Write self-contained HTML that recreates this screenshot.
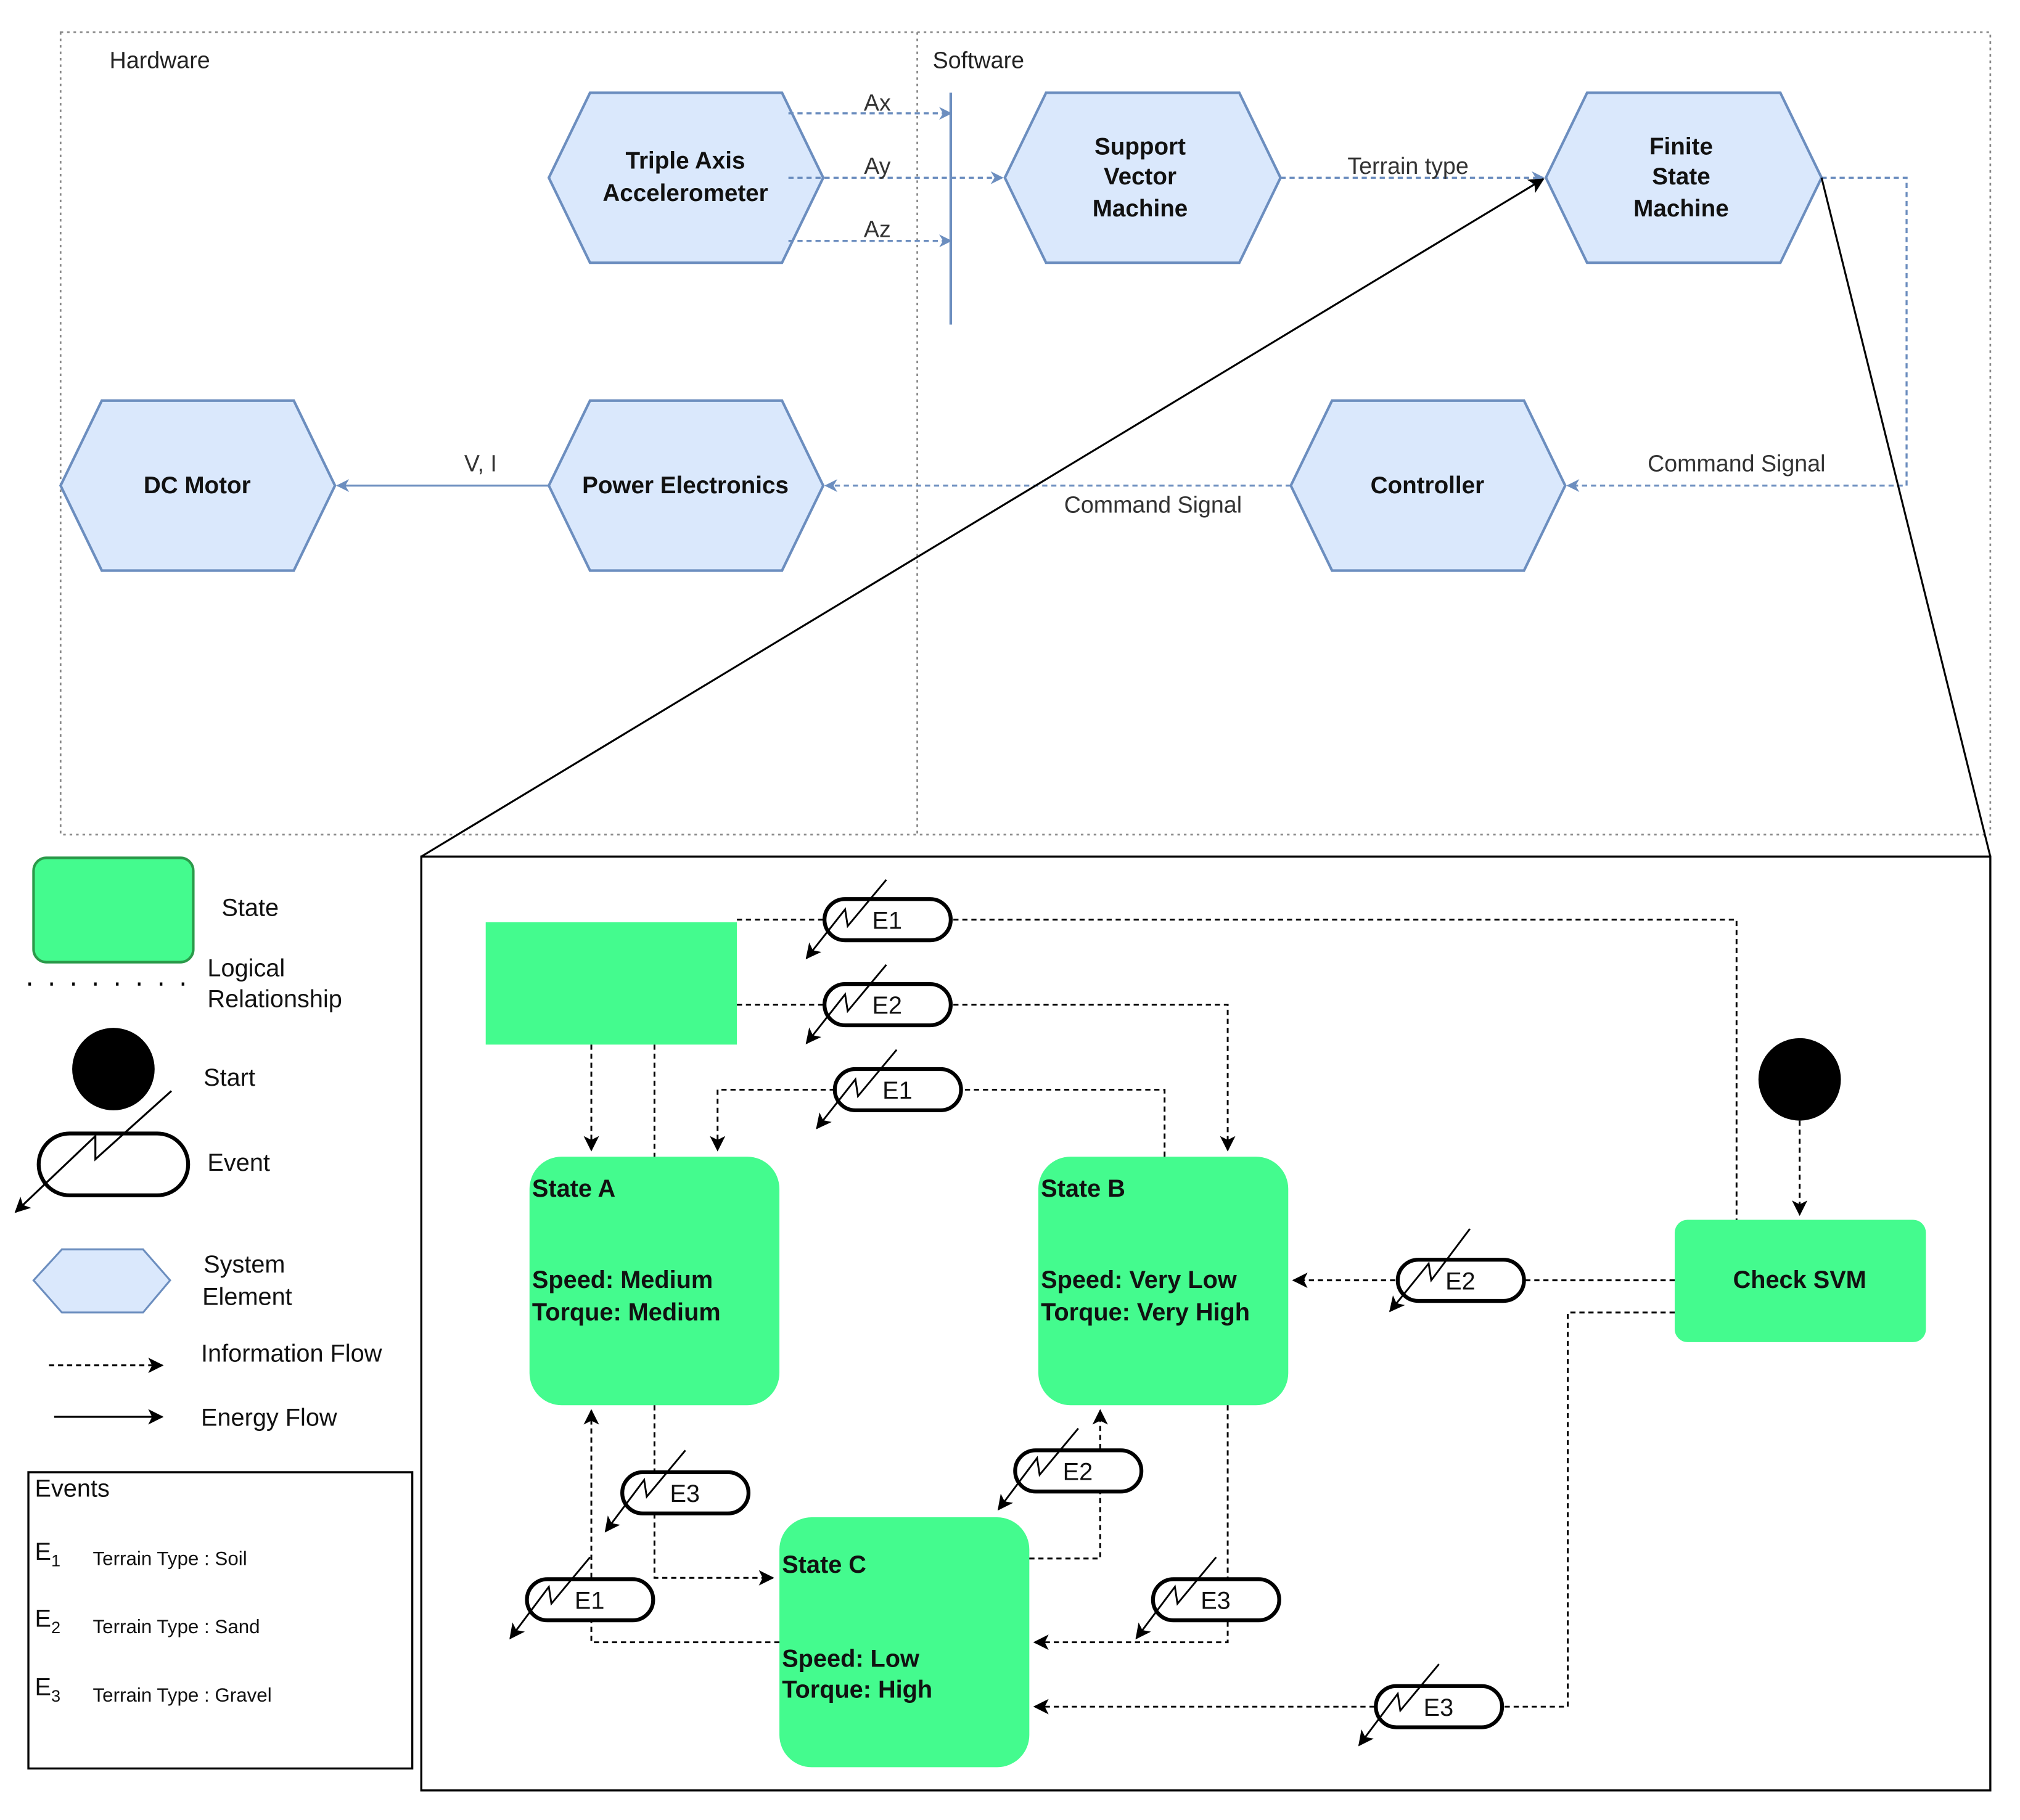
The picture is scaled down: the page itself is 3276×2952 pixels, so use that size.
<!DOCTYPE html>
<html><head><meta charset="utf-8"><style>html,body{margin:0;padding:0;background:#fff}svg{display:block}</style></head><body>
<svg width="3276" height="2952" viewBox="0 0 1568 1413" xmlns="http://www.w3.org/2000/svg" font-family="Liberation Sans, sans-serif">
<defs>
<marker id="ab" markerWidth="10" markerHeight="10" refX="9" refY="5" orient="auto" markerUnits="userSpaceOnUse"><path d="M0,0 L10,5 L0,10 L3,5 z" fill="#6c8ebf"/></marker>
<marker id="ak" markerWidth="12" markerHeight="12" refX="11" refY="6" orient="auto" markerUnits="userSpaceOnUse"><path d="M0,0 L12,6 L0,12 L3,6 z" fill="#000"/></marker>
</defs>
<rect width="1568" height="1413" fill="#fff"/>
<g fill="none" stroke="#888" stroke-width="1.3" stroke-dasharray="2,3">
<rect x="47" y="25" width="1498" height="623"/>
<line x1="712" y1="25" x2="712" y2="648"/>
</g>
<g font-size="18" fill="#222">
<text x="85" y="53">Hardware</text><text x="724" y="53">Software</text>
</g>
<g fill="#dae8fc" stroke="#6c8ebf" stroke-width="2">
<polygon points="426,138 458,72 607,72 639,138 607,204 458,204"/>
<polygon points="780,138 812,72 962,72 994,138 962,204 812,204"/>
<polygon points="1200,138 1232,72 1382,72 1414,138 1382,204 1232,204"/>
<polygon points="47,377 79,311 228,311 260,377 228,443 79,443"/>
<polygon points="426,377 458,311 607,311 639,377 607,443 458,443"/>
<polygon points="1002,377 1034,311 1183,311 1215,377 1183,443 1034,443"/>
</g>
<g font-size="18.5" font-weight="bold" fill="#111" text-anchor="middle">
<text x="532" y="131">Triple Axis</text><text x="532" y="156">Accelerometer</text>
<text x="885" y="120">Support</text><text x="885" y="143">Vector</text><text x="885" y="168">Machine</text>
<text x="1305" y="120">Finite</text><text x="1305" y="143">State</text><text x="1305" y="168">Machine</text>
<text x="153" y="383">DC Motor</text><text x="532" y="383">Power Electronics</text><text x="1108" y="383">Controller</text>
</g>
<g stroke="#6c8ebf" stroke-width="1.6" fill="none">
<line x1="738" y1="72" x2="738" y2="252" stroke-width="2"/>
<g stroke-dasharray="4,3">
<line x1="612" y1="88" x2="738" y2="88" marker-end="url(#ab)"/>
<line x1="612" y1="138" x2="778" y2="138" marker-end="url(#ab)"/>
<line x1="612" y1="187" x2="738" y2="187" marker-end="url(#ab)"/>
<line x1="994" y1="138" x2="1198" y2="138" marker-end="url(#ab)"/>
<polyline points="1414,138 1480,138 1480,377 1217,377" marker-end="url(#ab)"/>
<line x1="1002" y1="377" x2="641" y2="377" marker-end="url(#ab)"/>
</g>
<line x1="426" y1="377" x2="262" y2="377" marker-end="url(#ab)"/>
</g>
<g font-size="18" fill="#333" text-anchor="middle">
<text x="681" y="86">Ax</text><text x="681" y="135">Ay</text><text x="681" y="184">Az</text>
<text x="1093" y="135">Terrain type</text><text x="1348" y="366">Command Signal</text>
<text x="895" y="398">Command Signal</text><text x="373" y="366">V, I</text>
</g>
<line x1="327" y1="665" x2="1198" y2="139" stroke="#000" stroke-width="1.5" marker-end="url(#ak)"/>
<line x1="1414" y1="138" x2="1545" y2="665" stroke="#000" stroke-width="1.5"/>
<rect x="327" y="665" width="1218" height="725" fill="none" stroke="#000" stroke-width="1.6"/>
<!-- legend -->
<rect x="26" y="666" width="124" height="81" rx="10" fill="#44fb8e" stroke="#2b9a4a" stroke-width="2"/>
<line x1="22" y1="764" x2="145" y2="764" stroke="#000" stroke-width="2.5" stroke-dasharray="2,15"/>
<circle cx="88" cy="830" r="32" fill="#000"/>
<rect x="30" y="880" width="116" height="48" rx="24" fill="#fff" stroke="#000" stroke-width="3"/>
<path d="M133,847 L74,900 L74,882 L12,941" stroke="#000" stroke-width="1.5" fill="none" marker-end="url(#ak)"/>
<polygon points="26,994 48,970 111,970 132,994 111,1019 48,1019" fill="#dae8fc" stroke="#6c8ebf" stroke-width="1.5"/>
<line x1="38" y1="1060" x2="126" y2="1060" stroke="#000" stroke-width="1.5" stroke-dasharray="4,3" marker-end="url(#ak)"/>
<line x1="42" y1="1100" x2="126" y2="1100" stroke="#000" stroke-width="1.5" marker-end="url(#ak)"/>
<g font-size="19" fill="#111">
<text x="172" y="711">State</text><text x="161" y="758">Logical</text><text x="161" y="782">Relationship</text>
<text x="158" y="843">Start</text><text x="161" y="909">Event</text>
<text x="158" y="988">System</text><text x="157" y="1013">Element</text>
<text x="156" y="1057">Information Flow</text><text x="156" y="1107">Energy Flow</text>
</g>
<rect x="22" y="1143" width="298" height="230" fill="none" stroke="#000" stroke-width="1.6"/>
<g fill="#111">
<text x="27" y="1162" font-size="19">Events</text>
<text x="27" y="1211" font-size="19">E<tspan font-size="13" dy="5">1</tspan></text>
<text x="27" y="1263" font-size="19">E<tspan font-size="13" dy="5">2</tspan></text>
<text x="27" y="1316" font-size="19">E<tspan font-size="13" dy="5">3</tspan></text>
<text x="72" y="1215" font-size="15">Terrain Type : Soil</text>
<text x="72" y="1268" font-size="15">Terrain Type : Sand</text>
<text x="72" y="1321" font-size="15">Terrain Type  : Gravel</text>
</g>
<!-- states -->
<g fill="#44fb8e">
<rect x="377" y="716" width="195" height="95"/>
<rect x="411" y="898" width="194" height="193" rx="25"/>
<rect x="806" y="898" width="194" height="193" rx="25"/>
<rect x="605" y="1178" width="194" height="194" rx="25"/>
<rect x="1300" y="947" width="195" height="95" rx="10"/>
</g>
<circle cx="1397" cy="838" r="32" fill="#000"/>
<g font-size="19" font-weight="bold" fill="#111">
<text x="413" y="929">State A</text><text x="413" y="1000">Speed: Medium</text><text x="413" y="1025">Torque: Medium</text>
<text x="808" y="929">State B</text><text x="808" y="1000">Speed: Very Low</text><text x="808" y="1025">Torque: Very High</text>
<text x="607" y="1221">State C</text><text x="607" y="1294">Speed: Low</text><text x="607" y="1318">Torque: High</text>
<text x="1397" y="1000" text-anchor="middle">Check SVM</text>
</g>
<g stroke="#000" stroke-width="1.4" fill="none" stroke-dasharray="4,3">
<polyline points="572,714 1348,714 1348,947"/>
<polyline points="572,780 953,780 953,893" marker-end="url(#ak)"/>
<polyline points="904,898 904,846 557,846 557,893" marker-end="url(#ak)"/>
<line x1="459" y1="811" x2="459" y2="893" marker-end="url(#ak)"/>
<line x1="508" y1="811" x2="508" y2="898"/>
<line x1="1397" y1="870" x2="1397" y2="943" marker-end="url(#ak)"/>
<line x1="1300" y1="994" x2="1004" y2="994" marker-end="url(#ak)"/>
<polyline points="1300,1019 1217,1019 1217,1325 803,1325" marker-end="url(#ak)"/>
<polyline points="508,1091 508,1225 600,1225" marker-end="url(#ak)"/>
<polyline points="605,1275 459,1275 459,1095" marker-end="url(#ak)"/>
<polyline points="799,1210 854,1210 854,1095" marker-end="url(#ak)"/>
<polyline points="953,1091 953,1275 803,1275" marker-end="url(#ak)"/>
</g>
<!-- events -->
<g font-size="19" fill="#111">
<g transform="translate(689,714)"><rect x="-49" y="-16" width="98" height="32" rx="16" fill="#fff" stroke="#000" stroke-width="3"/><path d="M-1,-31 L-31,5 L-33,-8 L-63,30" fill="none" stroke="#000" stroke-width="1.4" marker-end="url(#ak)"/><text x="-12" y="7">E1</text></g>
<g transform="translate(689,780)"><rect x="-49" y="-16" width="98" height="32" rx="16" fill="#fff" stroke="#000" stroke-width="3"/><path d="M-1,-31 L-31,5 L-33,-8 L-63,30" fill="none" stroke="#000" stroke-width="1.4" marker-end="url(#ak)"/><text x="-12" y="7">E2</text></g>
<g transform="translate(697,846)"><rect x="-49" y="-16" width="98" height="32" rx="16" fill="#fff" stroke="#000" stroke-width="3"/><path d="M-1,-31 L-31,5 L-33,-8 L-63,30" fill="none" stroke="#000" stroke-width="1.4" marker-end="url(#ak)"/><text x="-12" y="7">E1</text></g>
<g transform="translate(1134,994)"><rect x="-49" y="-16" width="98" height="32" rx="16" fill="#fff" stroke="#000" stroke-width="3"/><path d="M7,-40 L-23,0 L-25,-13 L-55,24" fill="none" stroke="#000" stroke-width="1.4" marker-end="url(#ak)"/><text x="-12" y="7">E2</text></g>
<g transform="translate(532,1159)"><rect x="-49" y="-16" width="98" height="32" rx="16" fill="#fff" stroke="#000" stroke-width="3"/><path d="M0,-33 L-30,3 L-32,-10 L-62,30" fill="none" stroke="#000" stroke-width="1.4" marker-end="url(#ak)"/><text x="-12" y="7">E3</text></g>
<g transform="translate(837,1142)"><rect x="-49" y="-16" width="98" height="32" rx="16" fill="#fff" stroke="#000" stroke-width="3"/><path d="M0,-33 L-30,3 L-32,-10 L-62,30" fill="none" stroke="#000" stroke-width="1.4" marker-end="url(#ak)"/><text x="-12" y="7">E2</text></g>
<g transform="translate(458,1242)"><rect x="-49" y="-16" width="98" height="32" rx="16" fill="#fff" stroke="#000" stroke-width="3"/><path d="M0,-33 L-30,3 L-32,-10 L-62,30" fill="none" stroke="#000" stroke-width="1.4" marker-end="url(#ak)"/><text x="-12" y="7">E1</text></g>
<g transform="translate(944,1242)"><rect x="-49" y="-16" width="98" height="32" rx="16" fill="#fff" stroke="#000" stroke-width="3"/><path d="M0,-33 L-30,3 L-32,-10 L-62,30" fill="none" stroke="#000" stroke-width="1.4" marker-end="url(#ak)"/><text x="-12" y="7">E3</text></g>
<g transform="translate(1117,1325)"><rect x="-49" y="-16" width="98" height="32" rx="16" fill="#fff" stroke="#000" stroke-width="3"/><path d="M0,-33 L-30,3 L-32,-10 L-62,30" fill="none" stroke="#000" stroke-width="1.4" marker-end="url(#ak)"/><text x="-12" y="7">E3</text></g>
</g>
</svg>
</body></html>
